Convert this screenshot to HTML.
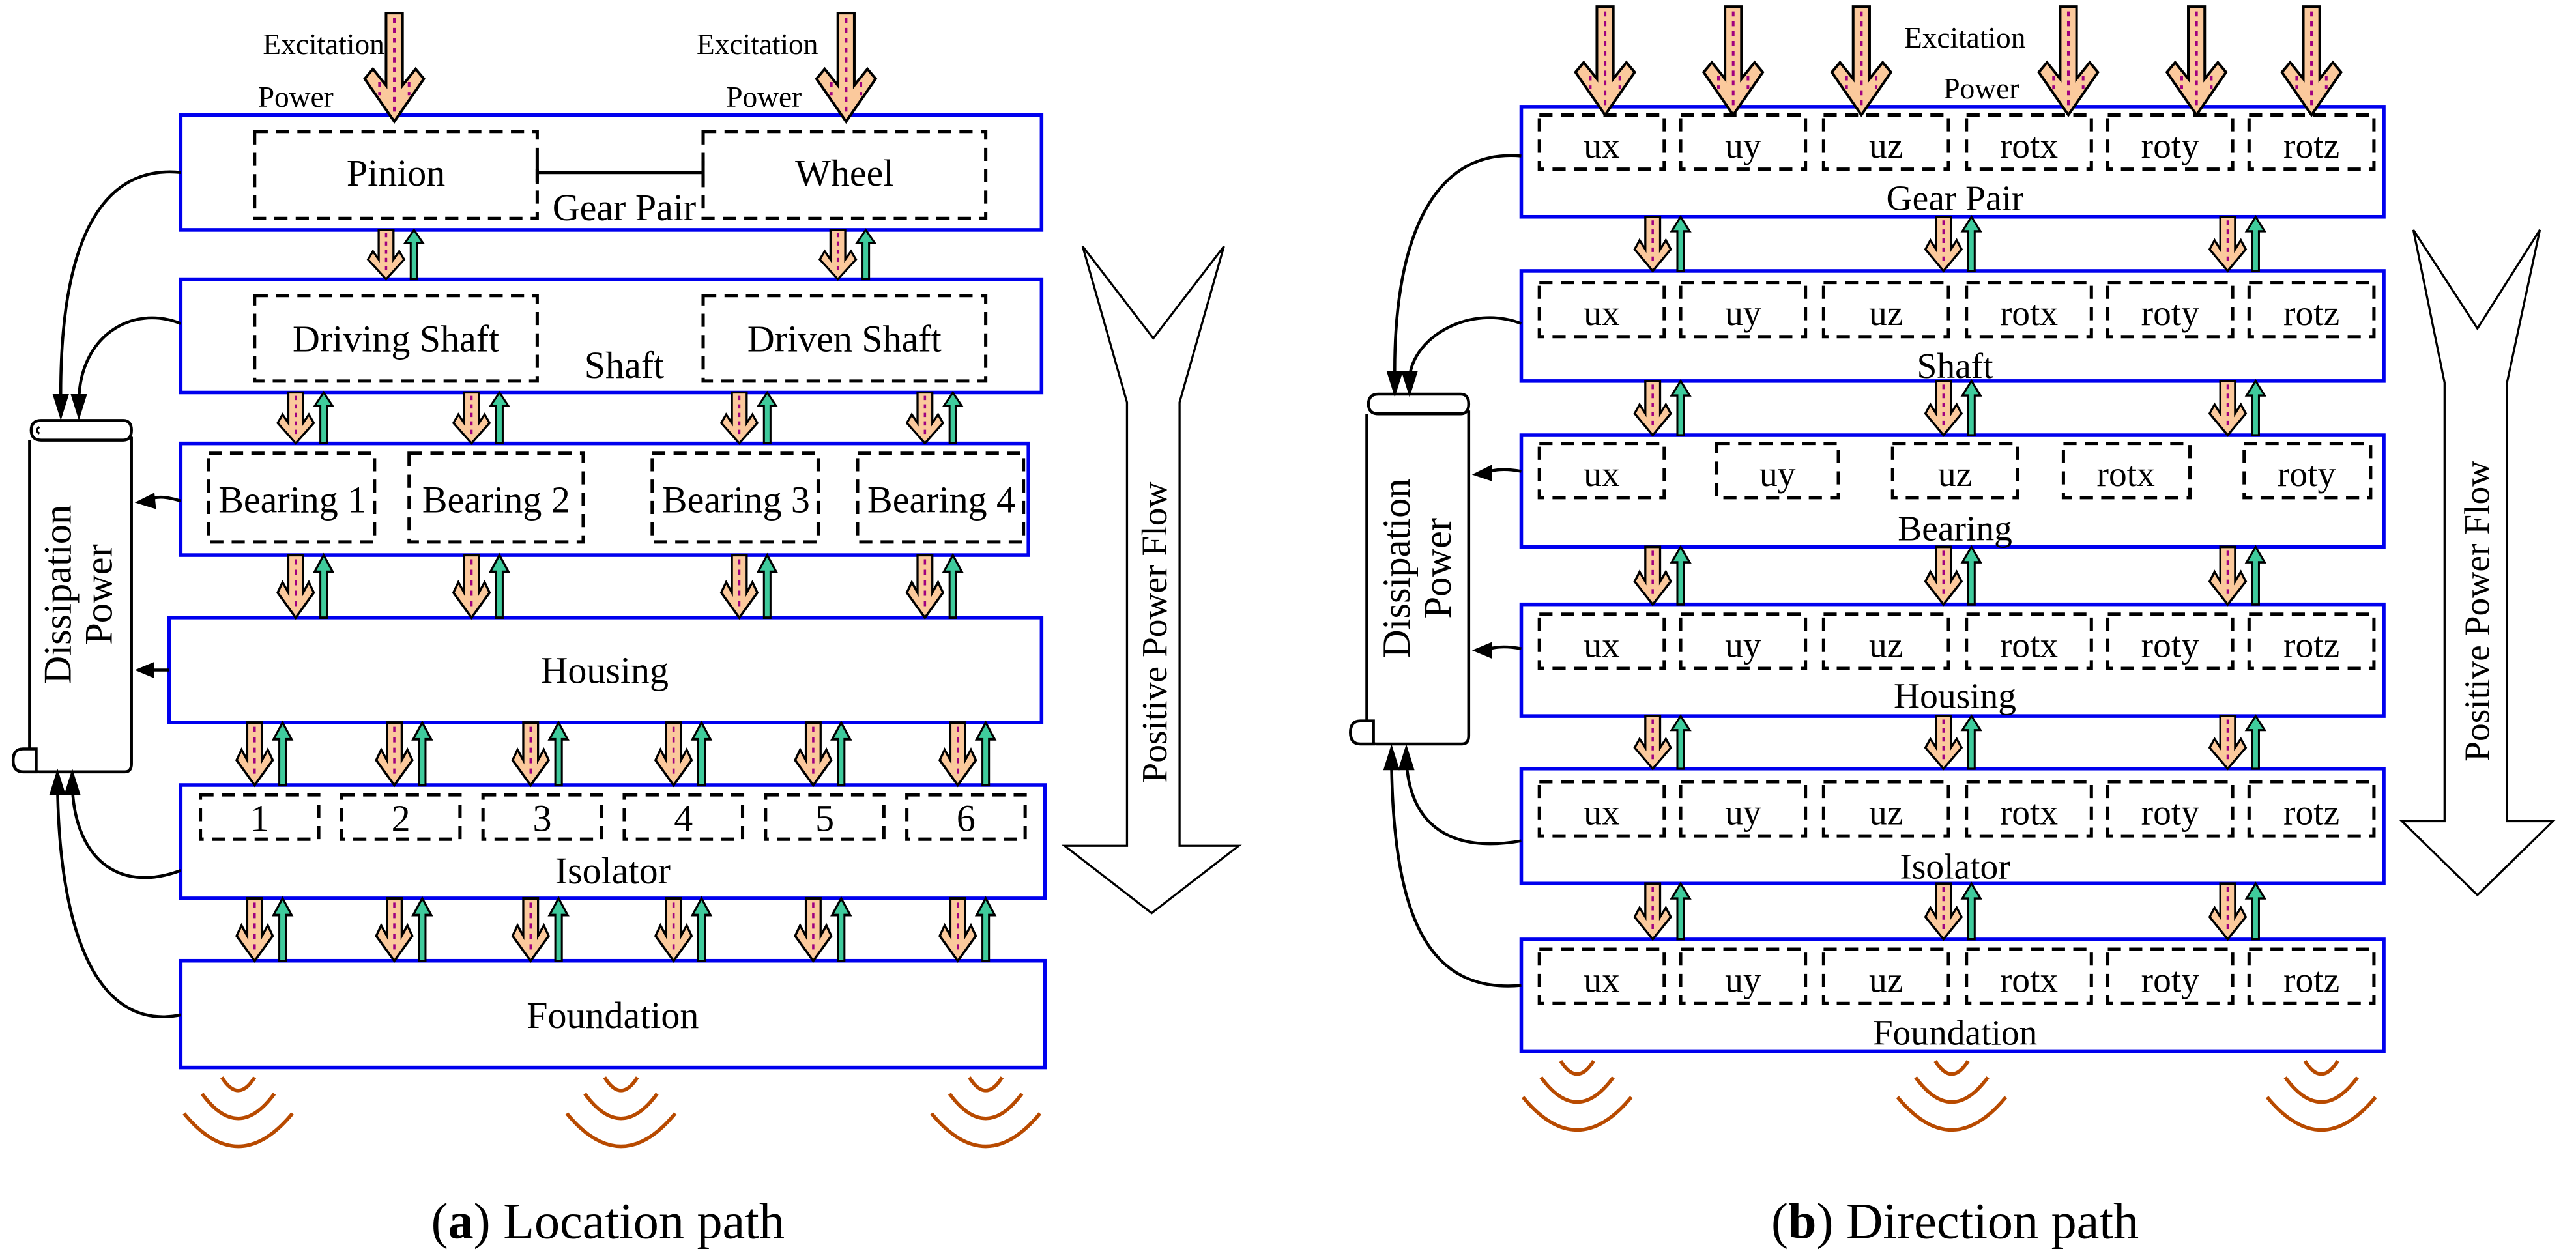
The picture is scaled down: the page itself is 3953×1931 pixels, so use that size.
<!DOCTYPE html>
<html><head><meta charset="utf-8"><style>
html,body{margin:0;padding:0;background:#fff;}
svg{display:block;}
text{font-family:"Liberation Serif",serif;fill:#000;}
</style></head><body>
<svg width="3953" height="1931" viewBox="0 0 1568 766" preserveAspectRatio="none" xmlns="http://www.w3.org/2000/svg">
<defs>
<g id="ex">
<path d="M-5,0 H5 V44 L13,34 L18,40 L0,66 L-18,40 L-13,34 L-5,44 Z" fill="#fbc99c" stroke="#000" stroke-width="1.6"/>
<line x1="0" y1="3" x2="0" y2="60" stroke="#a0007f" stroke-width="1.6" stroke-dasharray="3,3"/>
<line x1="-9" y1="42" x2="-9" y2="50" stroke="#a0007f" stroke-width="1.6" stroke-dasharray="3,3"/>
<line x1="9" y1="42" x2="9" y2="50" stroke="#a0007f" stroke-width="1.6" stroke-dasharray="3,3"/>
</g>
<g id="sd">
<path d="M-4.5,0 H4.5 V18 L8,13 L11,18 L0,30 L-11,18 L-8,13 L-4.5,18 Z" fill="#fbc99c" stroke="#000" stroke-width="1.3"/>
<line x1="0" y1="2" x2="0" y2="27" stroke="#a0007f" stroke-width="1.4" stroke-dasharray="2.5,2.5"/>
</g>
<g id="su">
<path d="M-2,30 V8 H-5.5 L0,0 L5.5,8 H2 V30 Z" fill="#3fcb9c" stroke="#000" stroke-width="1.2"/>
</g>
<g id="wave" fill="none" stroke="#b84a00" stroke-width="2.2">
<path d="M-10,0 Q0,16 10,0"/>
<path d="M-22,10 Q0,40 22,10"/>
<path d="M-33,22 Q0,62 33,22"/>
</g>
<g id="pair30"><use href="#sd" x="0"/><use href="#su" x="17"/></g>
</defs>

<!-- ================= LEFT PANEL ================= -->
<g fill="none" stroke="#0000ee" stroke-width="2.2">
<rect x="110" y="70" width="524" height="70"/>
<rect x="110" y="170" width="524" height="69"/>
<rect x="110" y="270" width="516" height="68"/>
<rect x="103" y="376" width="531" height="64"/>
<rect x="110" y="478" width="526" height="69"/>
<rect x="110" y="585" width="526" height="65"/>
</g>
<g fill="none" stroke="#000" stroke-width="2" stroke-dasharray="8,5">
<rect x="155" y="80" width="172" height="53"/>
<rect x="428" y="80" width="172" height="53"/>
<rect x="155" y="180" width="172" height="52"/>
<rect x="428" y="180" width="172" height="52"/>
<rect x="127" y="276" width="101" height="54"/>
<rect x="249" y="276" width="106" height="54"/>
<rect x="397" y="276" width="101" height="54"/>
<rect x="522" y="276" width="101" height="54"/>
<rect x="122" y="484" width="72" height="27"/>
<rect x="208" y="484" width="72" height="27"/>
<rect x="294" y="484" width="72" height="27"/>
<rect x="380" y="484" width="72" height="27"/>
<rect x="466" y="484" width="72" height="27"/>
<rect x="552" y="484" width="72" height="27"/>
</g>
<path d="M327,105 H428 M327,98 V112 M428,98 V112" stroke="#000" stroke-width="2" fill="none"/>
<g font-size="23" text-anchor="middle">
<text x="241" y="113">Pinion</text>
<text x="514" y="113">Wheel</text>
<text x="380" y="134">Gear Pair</text>
<text x="241" y="214">Driving Shaft</text>
<text x="514" y="214">Driven Shaft</text>
<text x="380" y="230">Shaft</text>
<text x="178" y="312">Bearing 1</text>
<text x="302" y="312">Bearing 2</text>
<text x="448" y="312">Bearing 3</text>
<text x="573" y="312">Bearing 4</text>
<text x="368" y="416">Housing</text>
<text x="158" y="506">1</text><text x="244" y="506">2</text><text x="330" y="506">3</text>
<text x="416" y="506">4</text><text x="502" y="506">5</text><text x="588" y="506">6</text>
<text x="373" y="538">Isolator</text>
<text x="373" y="626">Foundation</text>
</g>
<g font-size="18" text-anchor="middle">
<text x="197" y="33">Excitation</text>
<text x="180" y="65">Power</text>
<text x="461" y="33">Excitation</text>
<text x="465" y="65">Power</text>
</g>
<use href="#ex" x="240" y="8"/>
<use href="#ex" x="515" y="8"/>
<use href="#pair30" transform="translate(235,140)"/>
<use href="#pair30" transform="translate(510,140)"/>
<g transform="translate(0,239) scale(1,1.03)">
<use href="#pair30" x="180"/><use href="#pair30" x="287"/><use href="#pair30" x="450"/><use href="#pair30" x="563"/>
</g>
<g transform="translate(0,338) scale(1,1.27)">
<use href="#pair30" x="180"/><use href="#pair30" x="287"/><use href="#pair30" x="450"/><use href="#pair30" x="563"/>
</g>
<g transform="translate(0,440) scale(1,1.27)">
<use href="#pair30" x="155"/><use href="#pair30" x="240"/><use href="#pair30" x="323"/><use href="#pair30" x="410"/><use href="#pair30" x="495"/><use href="#pair30" x="583"/>
</g>
<g transform="translate(0,547) scale(1,1.27)">
<use href="#pair30" x="155"/><use href="#pair30" x="240"/><use href="#pair30" x="323"/><use href="#pair30" x="410"/><use href="#pair30" x="495"/><use href="#pair30" x="583"/>
</g>
<use href="#wave" x="145" y="656"/>
<use href="#wave" x="378" y="656"/>
<use href="#wave" x="600" y="656"/>
<g fill="#fff" stroke="#000" stroke-width="1.8">
<path d="M18,268 V465 Q18,470 24,470 H76 Q80,470 80,465 V266"/>
<path d="M25,256 H75 Q80,256 80,262 Q80,268 75,268 H25 Q19,268 19,262 Q19,256 25,256 Z"/>
<path d="M17,456 H22 V470 H14 Q8,470 8,463 Q8,456 14,456 Z"/>
</g>
<path d="M24,260 Q21,262 24,264" stroke="#000" fill="none" stroke-width="1.3"/>
<text font-size="24" text-anchor="middle" transform="translate(43,362) rotate(-90)">Dissipation</text>
<text font-size="24" text-anchor="middle" transform="translate(68,362) rotate(-90)">Power</text>
<g fill="none" stroke="#000" stroke-width="1.8">
<path d="M110,105 C60,100 36,150 37,245"/>
<path d="M110,197 C80,185 48,205 48,245"/>
<path d="M110,305 C100,302 95,302 88,305"/>
<path d="M103,408 L88,408"/>
<path d="M110,530 C70,545 45,520 44,478"/>
<path d="M110,618 C60,628 36,570 35,478"/>
</g>
<g fill="#000">
<path d="M37,256 L32,240 L42,240 Z"/>
<path d="M48,256 L43,240 L53,240 Z"/>
<path d="M82,306 L94,300 L95,310 Z"/>
<path d="M82,408 L94,403 L94,413 Z"/>
<path d="M44,468 L39,484 L49,484 Z"/>
<path d="M35,468 L30,484 L40,484 Z"/>
</g>
<path d="M659,150 L702,206 L745,150 L718,245 V515 H754 L701,556 L648,515 H686 V245 Z" fill="#fff" stroke="#000" stroke-width="1.3"/>
<text font-size="22" text-anchor="middle" transform="translate(710,385) rotate(-90)">Positive Power Flow</text>

<!-- ================= RIGHT PANEL ================= -->
<g fill="none" stroke="#0000ee" stroke-width="2.2">
<rect x="926" y="65" width="525" height="67"/>
<rect x="926" y="165" width="525" height="67"/>
<rect x="926" y="265" width="525" height="68"/>
<rect x="926" y="368" width="525" height="68"/>
<rect x="926" y="468" width="525" height="70"/>
<rect x="926" y="572" width="525" height="68"/>
</g>
<g fill="none" stroke="#000" stroke-width="2" stroke-dasharray="8,5">
<g id="cells">
<rect x="937" y="70" width="76" height="33"/>
<rect x="1023" y="70" width="76" height="33"/>
<rect x="1110" y="70" width="76" height="33"/>
<rect x="1197" y="70" width="76" height="33"/>
<rect x="1283" y="70" width="76" height="33"/>
<rect x="1369" y="70" width="76" height="33"/>
</g>
<use href="#cells" y="102"/>
<use href="#cells" y="304"/>
<use href="#cells" y="406"/>
<use href="#cells" y="508"/>
<rect x="937" y="270" width="76" height="33"/>
<rect x="1045" y="270" width="74" height="33"/>
<rect x="1152" y="270" width="76" height="33"/>
<rect x="1256" y="270" width="77" height="33"/>
<rect x="1366" y="270" width="77" height="33"/>
</g>
<g font-size="22" text-anchor="middle">
<text x="975" y="96">ux</text><text x="1061" y="96">uy</text><text x="1148" y="96">uz</text>
<text x="1235" y="96">rotx</text><text x="1321" y="96">roty</text><text x="1407" y="96">rotz</text>
<g transform="translate(0,102)"><text x="975" y="96">ux</text><text x="1061" y="96">uy</text><text x="1148" y="96">uz</text>
<text x="1235" y="96">rotx</text><text x="1321" y="96">roty</text><text x="1407" y="96">rotz</text></g>
<g transform="translate(0,304)"><text x="975" y="96">ux</text><text x="1061" y="96">uy</text><text x="1148" y="96">uz</text>
<text x="1235" y="96">rotx</text><text x="1321" y="96">roty</text><text x="1407" y="96">rotz</text></g>
<g transform="translate(0,406)"><text x="975" y="96">ux</text><text x="1061" y="96">uy</text><text x="1148" y="96">uz</text>
<text x="1235" y="96">rotx</text><text x="1321" y="96">roty</text><text x="1407" y="96">rotz</text></g>
<g transform="translate(0,508)"><text x="975" y="96">ux</text><text x="1061" y="96">uy</text><text x="1148" y="96">uz</text>
<text x="1235" y="96">rotx</text><text x="1321" y="96">roty</text><text x="1407" y="96">rotz</text></g>
<text x="975" y="296">ux</text><text x="1082" y="296">uy</text><text x="1190" y="296">uz</text>
<text x="1294" y="296">rotx</text><text x="1404" y="296">roty</text>
<text x="1190" y="128">Gear Pair</text>
<text x="1190" y="230">Shaft</text>
<text x="1190" y="329">Bearing</text>
<text x="1190" y="431">Housing</text>
<text x="1190" y="535">Isolator</text>
<text x="1190" y="636">Foundation</text>
</g>
<g font-size="18" text-anchor="middle">
<text x="1196" y="29">Excitation</text>
<text x="1206" y="60">Power</text>
</g>
<use href="#ex" x="977" y="4"/>
<use href="#ex" x="1055" y="4"/>
<use href="#ex" x="1133" y="4"/>
<use href="#ex" x="1259" y="4"/>
<use href="#ex" x="1337" y="4"/>
<use href="#ex" x="1407" y="4"/>
<g transform="translate(0,132) scale(1,1.1)"><use href="#pair30" x="1006"/><use href="#pair30" x="1183"/><use href="#pair30" x="1356"/></g>
<g transform="translate(0,232) scale(1,1.1)"><use href="#pair30" x="1006"/><use href="#pair30" x="1183"/><use href="#pair30" x="1356"/></g>
<g transform="translate(0,333) scale(1,1.17)"><use href="#pair30" x="1006"/><use href="#pair30" x="1183"/><use href="#pair30" x="1356"/></g>
<g transform="translate(0,436) scale(1,1.07)"><use href="#pair30" x="1006"/><use href="#pair30" x="1183"/><use href="#pair30" x="1356"/></g>
<g transform="translate(0,538) scale(1,1.13)"><use href="#pair30" x="1006"/><use href="#pair30" x="1183"/><use href="#pair30" x="1356"/></g>
<use href="#wave" x="960" y="646"/>
<use href="#wave" x="1188" y="646"/>
<use href="#wave" x="1413" y="646"/>
<g fill="#fff" stroke="#000" stroke-width="1.8">
<path d="M832,252 V448 Q832,453 838,453 H890 Q894,453 894,448 V250"/>
<path d="M839,240 H889 Q894,240 894,246 Q894,252 889,252 H839 Q833,252 833,246 Q833,240 839,240 Z"/>
<path d="M831,439 H836 V453 H828 Q822,453 822,446 Q822,439 828,439 Z"/>
</g>
<text font-size="24" text-anchor="middle" transform="translate(858,346) rotate(-90)">Dissipation</text>
<text font-size="24" text-anchor="middle" transform="translate(883,346) rotate(-90)">Power</text>
<g fill="none" stroke="#000" stroke-width="1.8">
<path d="M926,95 C870,90 848,150 849,230"/>
<path d="M926,197 C895,185 860,205 858,230"/>
<path d="M926,287 C915,285 910,286 902,288"/>
<path d="M926,395 C915,393 910,394 902,396"/>
<path d="M926,512 C880,520 858,500 856,463"/>
<path d="M926,600 C870,605 848,560 847,463"/>
</g>
<g fill="#000">
<path d="M849,242 L844,226 L854,226 Z"/>
<path d="M858,242 L853,226 L863,226 Z"/>
<path d="M896,289 L908,283 L908,293 Z"/>
<path d="M896,396 L908,391 L908,401 Z"/>
<path d="M856,453 L851,469 L861,469 Z"/>
<path d="M847,453 L842,469 L852,469 Z"/>
</g>
<path d="M1469,140 L1508,200 L1546,140 L1526,233 V500 H1554 L1508,545 L1462,500 H1488 V233 Z" fill="#fff" stroke="#000" stroke-width="1.3"/>
<text font-size="22" text-anchor="middle" transform="translate(1515,372) rotate(-90)">Positive Power Flow</text>

<text x="370" y="754" font-size="31" text-anchor="middle">(<tspan font-weight="bold">a</tspan>) Location path</text>
<text x="1190" y="754" font-size="31" text-anchor="middle">(<tspan font-weight="bold">b</tspan>) Direction path</text>
</svg>
</body></html>
